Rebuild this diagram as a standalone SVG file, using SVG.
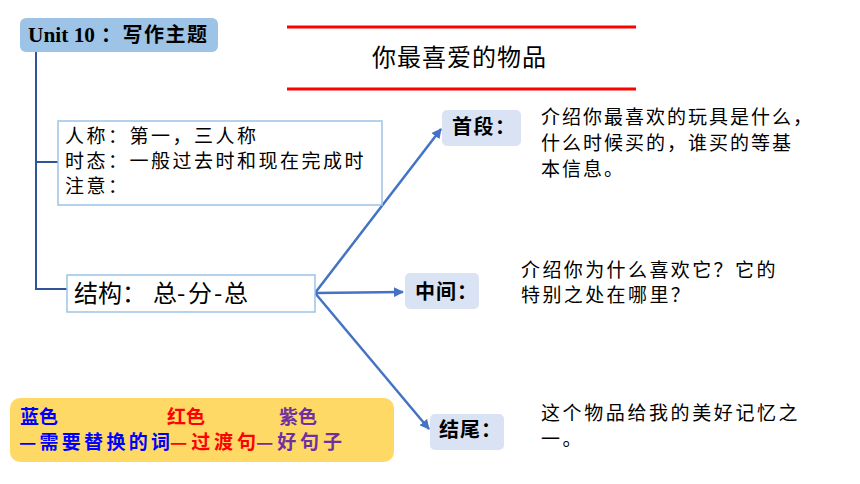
<svg xmlns="http://www.w3.org/2000/svg" width="860" height="484" viewBox="0 0 860 484">
<defs>
<marker id="ah" viewBox="0 0 10 10" refX="9" refY="5" markerWidth="4" markerHeight="4" orient="auto"><path d="M0,0L10,5L0,10z" fill="#4472c4"/></marker>
<style>
.t{font-family:"Noto Sans CJK SC","Noto Sans",sans-serif;fill:#000}
.b{font-weight:bold}
.lbl{fill:#dae3f3}
.lt{font-size:20px;font-weight:bold}
.info{font-size:19px;letter-spacing:2.5px}
.desc{font-size:19px}
.lg{font-size:19px;font-weight:bold}
.blue{fill:#0000ff}
.red{fill:#ff0000}
.purple{fill:#7030a0}
.conn{stroke:#4472c4;stroke-width:2.5;fill:none}
.tree{stroke:#2f5597;stroke-width:2;fill:none}
</style>
</defs>
<rect width="860" height="484" fill="#fff"/>
<g id="connectors">
<path class="tree" d="M36,52V289H67M36,162H58"/>
<line class="conn" x1="315" y1="293" x2="441" y2="129" marker-end="url(#ah)"/>
<line class="conn" x1="315" y1="293" x2="403" y2="292" marker-end="url(#ah)"/>
<line class="conn" x1="315" y1="293" x2="429" y2="429" marker-end="url(#ah)"/>
</g>
<g id="title">
<rect x="20" y="18" width="198" height="34" rx="6" fill="#9dc3e6"/>
<text x="28" y="42" font-family="Liberation Serif,serif" font-size="21" font-weight="bold" textLength="67" lengthAdjust="spacingAndGlyphs">Unit 10</text>
<text class="t b" x="101" y="42" font-size="20" textLength="106">：写作主题</text>
</g>
<g id="heading">
<line x1="287" y1="27" x2="636" y2="27" stroke="#ff0000" stroke-width="3"/>
<line x1="287" y1="89" x2="636" y2="89" stroke="#ff0000" stroke-width="3"/>
<text class="t" x="372" y="66" font-size="24" textLength="174">你最喜爱的物品</text>
</g>
<g id="info">
<rect x="58" y="121" width="324" height="84" fill="#fff" stroke="#9dc3e6" stroke-width="1.5"/>
<text class="t info"><tspan x="65" y="143">人称：第一，三人称</tspan><tspan x="65" y="168">时态：一般过去时和现在完成时</tspan><tspan x="65" y="193">注意：</tspan></text>
</g>
<g id="structure">
<rect x="67" y="275" width="248" height="37" fill="#fff" stroke="#9dc3e6" stroke-width="1.5"/>
<text class="t" y="302" font-size="24"><tspan x="74">结构：</tspan><tspan x="153">总</tspan><tspan x="177">-</tspan><tspan x="188">分</tspan><tspan x="214">-</tspan><tspan x="224">总</tspan></text>
</g>
<g id="first">
<rect class="lbl" x="442" y="110" width="79" height="36" rx="5"/>
<text class="t lt" x="452" y="134" textLength="63">首段：</text>
</g>
<g id="middle">
<rect class="lbl" x="405" y="273" width="74" height="36" rx="5"/>
<text class="t lt" x="415" y="299" textLength="62">中间：</text>
</g>
<g id="end">
<rect class="lbl" x="430" y="414" width="74" height="36" rx="5"/>
<text class="t lt" x="439" y="437" textLength="62">结尾：</text>
</g>
<g id="first-desc">
<text class="t desc" letter-spacing="2"><tspan x="541" y="124">介绍你最喜欢的玩具是什么，</tspan><tspan x="541" y="150">什么时候买的，谁买的等基</tspan><tspan x="541" y="176">本信息。</tspan></text>
</g>
<g id="middle-desc">
<text class="t desc" letter-spacing="2.4"><tspan x="521" y="277">介绍你为什么喜欢它？它的</tspan><tspan x="521" y="302">特别之处在哪里？</tspan></text>
</g>
<g id="end-desc">
<text class="t desc" letter-spacing="2.6"><tspan x="541" y="420">这个物品给我的美好记忆之</tspan><tspan x="541" y="446">一。</tspan></text>
</g>
<g id="legend">
<rect x="10" y="398" width="384" height="64" rx="10" fill="#ffd966"/>
<text class="t lg" y="424"><tspan x="20" class="blue">蓝色</tspan><tspan x="167" class="red">红色</tspan><tspan x="279" class="purple">紫色</tspan></text>
<text class="t lg blue" x="19" y="449" textLength="151">—需要替换的词</text>
<text class="t lg red" x="170" y="449" textLength="86">—过渡句</text>
<text class="t lg purple" x="256" y="449" textLength="86">—好句子</text>
</g>
</svg>
